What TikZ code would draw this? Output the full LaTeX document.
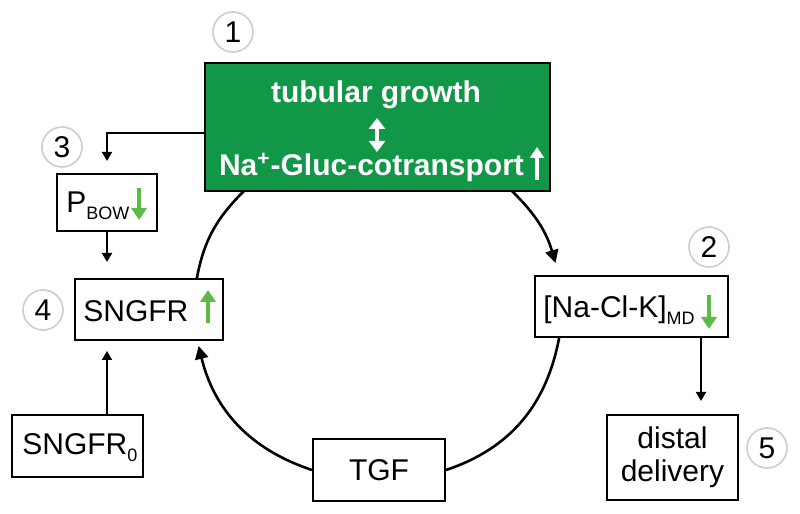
\documentclass[tikz,border=0pt]{standalone}
\usepackage{fontspec}
\setmainfont{Liberation Sans}
\usetikzlibrary{arrows.meta}
\definecolor{boxgreen}{RGB}{18,150,72}
\definecolor{upgreen}{RGB}{95,185,70}
\definecolor{ringgray}{RGB}{205,205,205}
\newcommand\subtxt[1]{\raisebox{-3.5pt}{\fontsize{9}{9}\selectfont #1}}
\begin{document}
\begin{tikzpicture}[x=0.5pt,y=0.5pt,
  every node/.style={font=\fontsize{15}{16.5}\selectfont},
  box/.style={draw=black, line width=1pt, inner sep=0pt, fill=white},
  num/.style={draw=ringgray, line width=0.8pt, circle, minimum size=20pt, inner sep=0pt},
  arr/.style={line width=0.9pt, -{Triangle[length=4.5pt,width=5pt]}},
  ring/.style={line width=1.3pt},
  ringarr/.style={line width=1.3pt, -{Triangle[length=6.5pt,width=6.5pt]}},
  greenarr/.style={draw=upgreen, line width=1.8pt, -{Triangle[length=6pt,width=7.5pt]}},
  whitearr/.style={draw=white, line width=1.6pt, -{Triangle[length=5.5pt,width=7pt]}},
  whitedbl/.style={draw=white, line width=1.6pt, {Triangle[length=5.5pt,width=8pt]}-{Triangle[length=5.5pt,width=8pt]}},
  txt/.style={inner sep=0pt, anchor=base west},
  gtxt/.style={inner sep=0pt, anchor=base, text=white, font=\bfseries\fontsize{15}{16.5}\selectfont}
]
\useasboundingbox (0,0) rectangle (800,514);

% boxes
\node[box, fill=boxgreen, minimum width=172.5pt, minimum height=64pt] (green) at (377.5,387) {};
\node[box, minimum width=50pt, minimum height=28.5pt] (pbow) at (107,311.5) {};
\node[box, minimum width=74pt, minimum height=30.5pt] (sngfr) at (149,204.5) {};
\node[box, minimum width=65.5pt, minimum height=31pt] (sngfr0) at (77.5,68) {};
\node[box, minimum width=66pt, minimum height=31pt] (tgf) at (379,44) {TGF};
\node[box, minimum width=96.5pt, minimum height=30.5pt] (nacl) at (631.5,207.5) {};
\node[box, minimum width=65.5pt, minimum height=42.5pt, align=center] (distal) at (672.5,56.5) {distal\\delivery};

% texts
\node[gtxt] (tg) at (376,411) {tubular growth};
\node[gtxt] (na) at (371.5,338) {Na\textsuperscript{+}-Gluc-cotransport};
\node[txt] (tp) at (66,301) {P\subtxt{BOW}};
\node[txt] (ts) at (83,192) {SNGFR};
\node[txt] (ts0) at (22,59) {SNGFR\subtxt{0}};
\node[txt] (tn) at (543,196) {[Na-Cl-K]\subtxt{MD}};

% numbers
\node[num] (n1) at (233,482) {1};
\node[num] (n2) at (709,267) {2};
\node[num] (n3) at (62,367) {3};
\node[num] (n4) at (43,204) {4};
\node[num] (n5) at (767,66) {5};

% indicator arrows
\coordinate (wd1) at (377,396); \coordinate (wd2) at (377,362);
\draw[whitedbl] (wd1) -- (wd2);
\coordinate (wu1) at (537,334); \coordinate (wu2) at (537,367);
\draw[whitearr] (wu1) -- (wu2);
\coordinate (ga1) at (139,326); \coordinate (ga2) at (139,294);
\draw[greenarr] (ga1) -- (ga2);
\coordinate (gb1) at (208,191); \coordinate (gb2) at (208,224);
\draw[greenarr] (gb1) -- (gb2);
\coordinate (gc1) at (709,219); \coordinate (gc2) at (709,185);
\draw[greenarr] (gc1) -- (gc2);

% connectors
\draw[arr, shorten >=6pt] ([yshift=-3pt]green.west) -| (pbow.north);
\draw[arr, shorten >=8pt] (pbow.south) -- (pbow.south |- sngfr.north);
\draw[arr, shorten >=5pt] (sngfr0.north -| pbow.south) -- (pbow.south |- sngfr.south);
\draw[arr, shorten >=6.5pt] ([xshift=34.75pt]nacl.south) -- ([xshift=34.75pt]nacl.south |- distal.north);

% ring
\coordinate (p1) at (244,323);
\coordinate (p2) at (196.7,235);
\coordinate (p3) at (198.6,168);
\coordinate (p6) at (559.3,177);
\coordinate (p7) at (512,323);
\coordinate (p8) at (555.5,251);
\draw[ring] (p1) to[out=224.7,in=79.5] (p2);
\draw[ringarr] (p7) to[out=-44.7,in=106.4] (p8);
\draw[ring] (p6) to[out=259.5,in=18.4] (tgf.east);
\draw[ringarr] (tgf.west) to[out=161.6,in=-76.2] (p3);
\end{tikzpicture}
\end{document}
